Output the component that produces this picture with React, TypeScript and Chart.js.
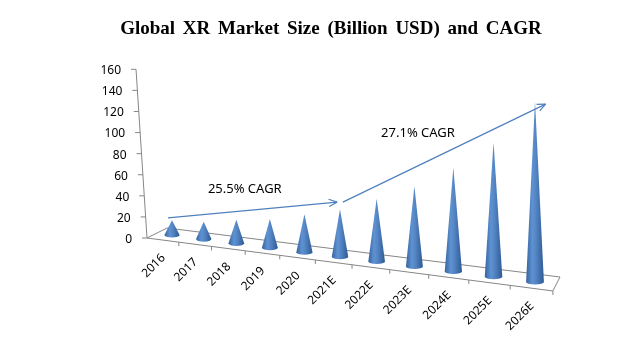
import React, { useEffect, useRef } from "react";
import { Chart, registerables, CategoryScale, LinearScale } from "chart.js";

const titleText = "Global XR Market Size (Billion USD) and CAGR";
const categories = ["2016", "2017", "2018", "2019", "2020", "2021E", "2022E", "2023E", "2024E", "2025E", "2026E"];
const marketSize = [14, 16, 21, 25, 32, 39, 50, 62, 78, 98, 128];
const yMin = 0;
const yMax = 160;
const yStep = 20;
// CAGR arrows, in [category position, value]
const cagrHistoric = { label: "25.5% CAGR", from: [-0.13, 19], to: [4.92, 34], at: [1.13, 46.5] };
const cagrForecast = { label: "27.1% CAGR", from: [5.08, 34], to: [10.25, 127], at: [6.12, 99.5] };

const FONT = '"Noto Sans"';
const LINE = "#868686";
const BLUE = "#4f81bd";

// perspective floor: category position -> pixel
const coneX = (i: number) => (172 + 28.89 * i) / (1 - 0.01385 * i);
const frontX = (j: number) => (147 + 29.39 * j) / (1 - 0.01358 * j);
const frontY = (x: number) => 238 + (x - 147) * 0.1305;
const coneBaseY = (x: number) => 235 + (x - 172) * 0.1295;
const depth = (x: number) => 1 + ((x - 172) / 363) * 0.34;
const wallX = (y: number) => 147 - ((238 - y) / 169) * 11;

class DepthCategoryScale extends CategoryScale {
  static id = "depthCategory";
  static defaults = CategoryScale.defaults;
  getPixelForValue(value: any, index?: number) {
    const i = typeof value === "number" ? value : index ?? 0;
    return coneX(i);
  }
  getPadding() {
    return { left: 0, right: 0, top: 0, bottom: 0 };
  }
  _computeLabelItems(area: any) {
    const items = (CategoryScale.prototype as any)._computeLabelItems.call(this, area);
    items.forEach((item: any, j: number) => {
      const x = (frontX(j) + frontX(j + 1)) / 2;
      item.textOffset = 0;
      item.options.textAlign = "right";
      item.options.textBaseline = "middle";
      item.options.translation = [x + 0.5, frontY(x) + 16];
    });
    return items;
  }
}

class TiltedLinearScale extends LinearScale {
  static id = "tiltedLinear";
  static defaults = LinearScale.defaults;
  _computeLabelItems(area: any) {
    const items = (LinearScale.prototype as any)._computeLabelItems.call(this, area);
    items.forEach((item: any) => {
      const y = item.options.translation[1];
      item.textOffset = 0;
      item.options.textAlign = "right";
      item.options.textBaseline = "middle";
      item.options.translation = [wallX(y) - 15, y + 1.5];
    });
    return items;
  }
}

const seg = (ctx: CanvasRenderingContext2D, a: number, b: number, c: number, d: number) => {
  ctx.beginPath();
  ctx.moveTo(a, b);
  ctx.lineTo(c, d);
  ctx.stroke();
};

const sceneryPlugin = {
  id: "scenery",
  beforeDraw(chart: any) {
    chart.ctx.wordSpacing = "3px";
  },
  beforeDatasetsDraw(chart: any) {
    const { ctx, scales } = chart;
    const { y } = scales;
    ctx.save();
    ctx.wordSpacing = "0px";
    ctx.strokeStyle = LINE;
    ctx.lineWidth = 1;
    // wall
    const top = y.getPixelForValue(yMax);
    const bottom = y.getPixelForValue(yMin);
    seg(ctx, wallX(top), top, wallX(bottom), bottom);
    y.ticks.forEach((t: any) => {
      const p = y.getPixelForValue(t.value);
      seg(ctx, wallX(p) - 5, p, wallX(p), p);
    });
    // floor
    const f0 = frontX(0);
    const f1 = frontX(categories.length);
    ctx.beginPath();
    ctx.moveTo(f0, frontY(f0));
    ctx.lineTo(167, 228);
    ctx.lineTo(560, 277);
    ctx.lineTo(f1, frontY(f1));
    ctx.closePath();
    ctx.stroke();
    for (let j = 1; j <= categories.length; j++) {
      const x = frontX(j);
      seg(ctx, x, frontY(x), x, frontY(x) + 4);
    }
    // cones
    const meta = chart.getDatasetMeta(0);
    meta.data.forEach((bar: any, i: number) => {
      const cx = bar.x;
      const baseY = coneBaseY(cx);
      const tipY = baseY - (bottom - y.getPixelForValue(marketSize[i])) * depth(cx);
      const rx = 7.6 + ((cx - 172) / 363) * 1.3;
      const ry = 2.6;
      const g = ctx.createLinearGradient(cx - rx, 0, cx + rx, 0);
      g.addColorStop(0, "#35649f");
      g.addColorStop(0.35, "#5f92d2");
      g.addColorStop(0.55, "#5485c4");
      g.addColorStop(1, "#2d5a93");
      ctx.fillStyle = g;
      ctx.beginPath();
      ctx.moveTo(cx, tipY);
      ctx.lineTo(cx + rx, baseY);
      ctx.ellipse(cx, baseY, rx, ry, 0, 0, Math.PI);
      ctx.closePath();
      ctx.fill();
    });
    ctx.restore();
  },
  afterDatasetsDraw(chart: any) {
    const { ctx, scales } = chart;
    const { x, y } = scales;
    ctx.save();
    ctx.wordSpacing = "0px";
    ctx.strokeStyle = BLUE;
    ctx.fillStyle = "#000000";
    ctx.lineWidth = 1.2;
    ctx.font = `13px ${FONT}`;
    ctx.textBaseline = "middle";
    ctx.textAlign = "left";
    [cagrHistoric, cagrForecast].forEach((a) => {
      const x1 = x.getPixelForValue(a.from[0]);
      const y1 = y.getPixelForValue(a.from[1]);
      const x2 = x.getPixelForValue(a.to[0]);
      const y2 = y.getPixelForValue(a.to[1]);
      seg(ctx, x1, y1, x2, y2);
      const th = Math.atan2(y2 - y1, x2 - x1);
      [-0.42, 0.42].forEach((d) => {
        seg(ctx, x2, y2, x2 - 9 * Math.cos(th + d), y2 - 9 * Math.sin(th + d));
      });
      ctx.fillText(a.label, x.getPixelForValue(a.at[0]), y.getPixelForValue(a.at[1]));
    });
    ctx.restore();
  },
};

export default function App() {
  const ref = useRef<HTMLCanvasElement>(null);
  useEffect(() => {
    document.body.style.margin = "0";
    Chart.register(...registerables, DepthCategoryScale as any, TiltedLinearScale as any);
    const chart = new Chart(ref.current as HTMLCanvasElement, {
      type: "bar",
      data: {
        labels: categories,
        datasets: [{ label: "Market Size", data: marketSize, backgroundColor: "rgba(0,0,0,0)", borderWidth: 0 }],
      },
      plugins: [sceneryPlugin as any],
      options: {
        responsive: false,
        animation: false,
        layout: { padding: { left: 18 } },
        plugins: {
          legend: { display: false },
          tooltip: { enabled: false },
          title: {
            display: true,
            text: titleText,
            color: "#000000",
            font: { family: '"Liberation Serif"', size: 19, weight: "bold" },
            padding: { top: 18, bottom: 28.5 },
          },
        },
        scales: {
          x: {
            type: "depthCategory",
            grid: { display: false },
            border: { display: false },
            afterFit: (s: any) => {
              s.height = 114;
            },
            ticks: { autoSkip: false, minRotation: 45, maxRotation: 45, color: "#000000", font: { family: FONT, size: 12 } },
          } as any,
          y: {
            type: "tiltedLinear",
            min: yMin,
            max: yMax,
            grid: { display: false },
            border: { display: false },
            afterFit: (s: any) => {
              s.width = 128;
            },
            ticks: { stepSize: yStep, color: "#000000", font: { family: FONT, size: 12 } },
          } as any,
        },
      },
    } as any);
    return () => chart.destroy();
  }, []);
  return <canvas ref={ref} width={644} height={352} style={{ display: "block" }} />;
}
